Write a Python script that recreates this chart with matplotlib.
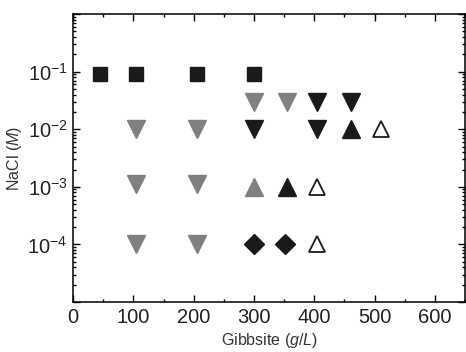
"""Gibbsite / NaCl state diagram."""

import matplotlib
matplotlib.use("Agg")
import matplotlib.pyplot as plt
from matplotlib.ticker import LogLocator, MultipleLocator, FixedLocator, NullFormatter

BLACK = "#1a1a1a"
GRAY = "#808080"

# black squares
sq_x = [45, 105, 205, 300]
sq_y = [0.09, 0.09, 0.09, 0.09]

# gray down triangles
gdn_x = [300, 355, 105, 205, 105, 205, 105, 205]
gdn_y = [0.03, 0.03, 0.01, 0.01, 0.0011, 0.0011, 0.0001, 0.0001]

# black down triangles
bdn_x = [405, 460, 300, 405]
bdn_y = [0.03, 0.03, 0.01, 0.01]

# gray up triangles
gup_x = [300]
gup_y = [0.001]

# black up triangles
bup_x = [460, 355]
bup_y = [0.01, 0.001]

# open up triangles
oup_x = [510, 405, 405]
oup_y = [0.01, 0.001, 0.0001]

# black diamonds
dia_x = [300, 352]
dia_y = [0.0001, 0.0001]


def main() -> int:
    plt.rcParams.update(
        {
            "font.family": ["Liberation Sans", "DejaVu Sans"],
            "mathtext.default": "regular",
            "mathtext.fontset": "custom",
            "mathtext.rm": "Liberation Sans",
            "mathtext.it": "Liberation Sans:italic",
        }
    )
    fig = plt.figure(figsize=(4.66, 3.52), dpi=100)
    ax = fig.add_axes([0.157, 0.142, 0.841, 0.818])

    ax.plot(sq_x, sq_y, "s", ms=10, color=BLACK, ls="none")
    ax.plot(gdn_x, gdn_y, "v", ms=13, color=GRAY, ls="none")
    ax.plot(bdn_x, bdn_y, "v", ms=13, color=BLACK, ls="none")
    ax.plot(gup_x, gup_y, "^", ms=13, color=GRAY, ls="none")
    ax.plot(bup_x, bup_y, "^", ms=13, color=BLACK, ls="none")
    ax.plot(oup_x, oup_y, "^", ms=12, mfc="white", mec=BLACK, mew=1.3, ls="none")
    ax.plot(dia_x, dia_y, "D", ms=10, color=BLACK, ls="none")

    ax.set_yscale("log")
    ax.set_xlim(0, 650)
    ax.set_ylim(1e-5, 1)
    ax.xaxis.set_major_locator(MultipleLocator(100))
    ax.xaxis.set_minor_locator(MultipleLocator(50))
    ax.yaxis.set_major_locator(FixedLocator([1e-5, 1e-4, 1e-3, 1e-2, 1e-1, 1]))
    ax.yaxis.set_minor_locator(LogLocator(base=10, subs=range(2, 10), numticks=20))
    ax.yaxis.set_minor_formatter(NullFormatter())
    ax.set_yticklabels(["", "$10^{-4}$", "$10^{-3}$", "$10^{-2}$", "$10^{-1}$", ""])

    ax.tick_params(which="both", direction="in", top=True, right=True, width=1)
    ax.tick_params(which="major", length=5, labelsize=14.5, pad=4, labelcolor="#222222")
    ax.tick_params(which="minor", length=2.5)
    for s in ax.spines.values():
        s.set_linewidth(1.1)

    ax.set_xlabel("Gibbsite ($\\it{g/L}$)", fontsize=11.5, color="#333333")
    ax.set_ylabel("NaCl ($\\it{M}$)", fontsize=11.5, color="#333333")
    ax.xaxis.set_label_coords(0.5, -0.1)
    ax.yaxis.set_label_coords(-0.125, 0.5)

    fig.savefig("out.png", dpi=100)
    return 0


if __name__ == "__main__":
    raise SystemExit(main())
